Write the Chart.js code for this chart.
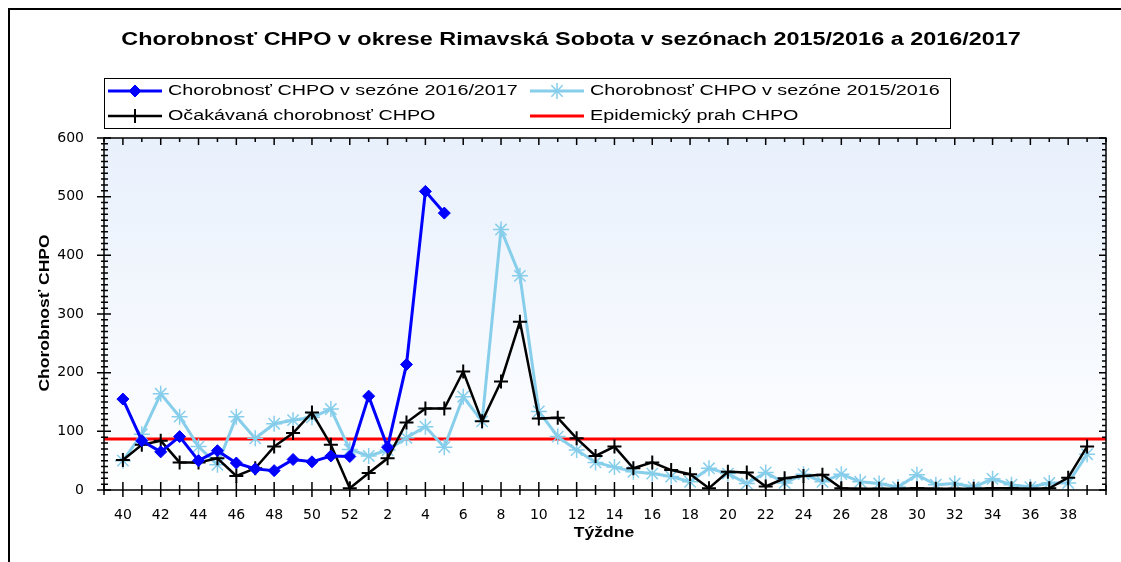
<!DOCTYPE html>
<html>
<head>
<meta charset="utf-8">
<script src="https://cdn.jsdelivr.net/npm/chart.js@4"></script>
<style>
  html, body { margin: 0; padding: 0; background: #fff; }
  #wrap { width: 1121px; height: 562px; position: relative; }
</style>
</head>
<body>
<div id="wrap"><canvas id="c" width="1121" height="562"></canvas></div>
<script>
// týždne sezóny (40. týždeň až 39. týždeň nasledujúceho roka)
var weeks = [40, 41, 42, 43, 44, 45, 46, 47, 48, 49, 50, 51, 52,
	1, 2, 3, 4, 5, 6, 7, 8, 9, 10, 11, 12, 13, 14, 15, 16, 17, 18, 19, 20,
	21, 22, 23, 24, 25, 26, 27, 28, 29, 30, 31, 32, 33, 34, 35, 36, 37, 38, 39];

// chorobnosť v sezóne 2016/2017 (zatiaľ len do 5. týždňa)
var season1617 = [155, 84, 65, 91, 50, 67, 46, 36, 33, 52, 48, 58, 57,
	160, 73, 214, 509, 472];

// chorobnosť v sezóne 2015/2016
var season1516 = [50, 95, 164, 125, 74, 43, 125, 88, 113, 119, 124, 138, 69,
	58, 68, 89, 108, 73, 159, 117, 444, 365, 134, 91, 68, 47, 39, 31, 28, 23, 14, 37, 28,
	11, 30, 12, 27, 14, 27, 14, 11, 5, 26, 9, 11, 5, 19, 9, 5, 12, 12, 61];

// očakávaná chorobnosť
var expected = [51, 77, 84, 47, 47, 54, 24, 37, 74, 97, 132, 77, 3,
	29, 54, 115, 139, 139, 202, 117, 185, 287, 122, 123, 88, 58, 74, 37, 47, 34, 27, 3, 31,
	30, 6, 20, 24, 26, 3, 2, 2, 2, 3, 2, 2, 2, 3, 3, 2, 3, 21, 74];

var epidemicThreshold = 87;

var titleText = 'Chorobnosť CHPO v okrese Rimavská Sobota v sezónach 2015/2016 a 2016/2017';
var yTitle = 'Chorobnosť CHPO';
var xTitle = 'Týždne';

function toPoints(arr) {
	return arr.map(function (v, i) { return { x: i, y: v }; });
}

// text roztiahnutý do šírky
function wideText(ctx, text, x, y, font, sx, align) {
	ctx.save();
	ctx.font = font;
	ctx.fillStyle = '#000';
	ctx.textBaseline = 'middle';
	var w = ctx.measureText(text).width * sx;
	var left = x;
	if (align === 'center') left = x - w / 2;
	if (align === 'right') left = x - w;
	ctx.translate(left, y);
	ctx.scale(sx, 1);
	ctx.textAlign = 'left';
	ctx.fillText(text, 0, 0);
	ctx.restore();
}

var frame = {
	id: 'frame',
	beforeDraw: function (chart) {
		var ctx = chart.ctx, a = chart.chartArea;
		ctx.save();
		var g = ctx.createLinearGradient(0, a.top, 0, a.bottom);
		g.addColorStop(0, '#e8f0fc');
		g.addColorStop(1, '#ffffff');
		ctx.fillStyle = g;
		ctx.fillRect(a.left, a.top, a.right - a.left, a.bottom - a.top);
		// orámovanie obrázka
		ctx.strokeStyle = '#000';
		ctx.lineWidth = 2;
		ctx.beginPath();
		ctx.moveTo(9, 562);
		ctx.lineTo(9, 9);
		ctx.lineTo(1121, 9);
		ctx.stroke();
		ctx.restore();
	},
	afterDraw: function (chart) {
		var ctx = chart.ctx, a = chart.chartArea;
		var xs = chart.scales.x, ys = chart.scales.y;
		ctx.save();
		ctx.strokeStyle = '#000';
		ctx.lineWidth = 1.5;
		ctx.strokeRect(a.left, a.top, a.right - a.left, a.bottom - a.top);
		ctx.beginPath();
		xs.ticks.forEach(function (t) {
			var px = xs.getPixelForValue(t.value);
			var major = t.label !== '';
			ctx.moveTo(px, a.bottom - (major ? 8 : 5));
			ctx.lineTo(px, a.bottom + (major ? 7 : 5));
			ctx.moveTo(px, a.top);
			ctx.lineTo(px, a.top + (major ? 7 : 4));
		});
		ys.ticks.forEach(function (t) {
			var py = ys.getPixelForValue(t.value);
			var major = t.value % 100 === 0;
			ctx.moveTo(a.left - (major ? 7 : 3), py);
			ctx.lineTo(a.left + (major ? 7 : 4), py);
			ctx.moveTo(a.right, py);
			ctx.lineTo(a.right - (major ? 7 : 4), py);
		});
		ctx.stroke();
		ctx.restore();

		// nadpis a popisy osí
		wideText(ctx, titleText, 571, 40, 'bold 18px "Liberation Sans"', 1.3, 'center');
		wideText(ctx, xTitle, 604, 533, 'bold 14px "Liberation Sans"', 1.25, 'center');
		ctx.save();
		ctx.translate(45, 313);
		ctx.rotate(-Math.PI / 2);
		wideText(ctx, yTitle, 0, 0, 'bold 14px "Liberation Sans"', 1.25, 'center');
		ctx.restore();

		// legenda
		ctx.save();
		ctx.strokeStyle = '#000';
		ctx.lineWidth = 1;
		ctx.strokeRect(104.5, 78.5, 846, 50);
		ctx.restore();
		var slots = [[108, 91], [108, 116], [530, 91], [530, 116]];
		var legendOrder = [0, 2, 1, 3];
		legendOrder.forEach(function (di, k) {
			var ds = chart.data.datasets[di];
			var sx = slots[k][0], sy = slots[k][1];
			ctx.save();
			ctx.strokeStyle = ds.borderColor;
			ctx.lineWidth = ds.borderWidth;
			ctx.beginPath();
			ctx.moveTo(sx, sy);
			ctx.lineTo(sx + 54, sy);
			ctx.stroke();
			if (ds.pointRadius > 0) {
				ctx.fillStyle = ds.pointBackgroundColor;
				ctx.strokeStyle = ds.pointBorderColor;
				ctx.lineWidth = ds.pointBorderWidth;
				Chart.helpers.drawPoint(ctx, {
					pointStyle: ds.pointStyle,
					radius: ds.pointRadius,
					borderWidth: ds.pointBorderWidth,
					rotation: 0
				}, sx + 27, sy);
			}
			ctx.restore();
			wideText(ctx, ds.label, sx + 60, sy, '14px "Liberation Sans"', 1.41, 'left');
		});
	}
};

var chart = new Chart(document.getElementById('c'), {
	type: 'line',
	data: {
		datasets: [{
			label: 'Chorobnosť CHPO v sezóne 2016/2017',
			data: toPoints(season1617),
			borderColor: '#0000ff',
			borderWidth: 3,
			pointStyle: 'rectRot',
			pointRadius: 6,
			pointBackgroundColor: '#0000ff',
			pointBorderColor: '#0000ff',
			pointBorderWidth: 1,
			order: 0
		}, {
			label: 'Chorobnosť CHPO v sezóne 2015/2016',
			data: toPoints(season1516),
			borderColor: '#87ceeb',
			borderWidth: 3,
			pointStyle: 'star',
			pointRadius: 8,
			pointBackgroundColor: '#87ceeb',
			pointBorderColor: '#87ceeb',
			pointBorderWidth: 1.5,
			order: 2
		}, {
			label: 'Očakávaná chorobnosť CHPO',
			data: toPoints(expected),
			borderColor: '#000000',
			borderWidth: 2.5,
			pointStyle: 'cross',
			pointRadius: 7,
			pointBackgroundColor: '#000000',
			pointBorderColor: '#000000',
			pointBorderWidth: 2,
			order: 1
		}, {
			label: 'Epidemický prah CHPO',
			data: [{ x: -1, y: epidemicThreshold }, { x: weeks.length, y: epidemicThreshold }],
			borderColor: '#ff0000',
			borderWidth: 3,
			pointRadius: 0,
			order: 3
		}]
	},
	options: {
		responsive: false,
		animation: false,
		layout: { padding: { left: 0, right: 15, top: 138, bottom: 0 } },
		plugins: {
			legend: { display: false },
			title: { display: false },
			tooltip: { enabled: false }
		},
		scales: {
			x: {
				type: 'linear',
				min: -1,
				max: weeks.length,
				grid: { display: false },
				border: { display: false },
				afterFit: function (s) { s.height = 72; },
				ticks: {
					stepSize: 1,
					autoSkip: false,
					maxRotation: 0,
					padding: 9,
					color: '#000',
					font: { family: 'DejaVu Sans', size: 14 },
					callback: function (v) {
						var w = weeks[v];
						return (w !== undefined && w % 2 === 0) ? String(w) : '';
					}
				}
			},
			y: {
				min: 0,
				max: 600,
				grid: { display: false },
				border: { display: false },
				afterFit: function (s) { s.width = 104; },
				ticks: {
					stepSize: 10,
					autoSkip: false,
					padding: 12,
					color: '#000',
					font: { family: 'DejaVu Sans', size: 14 },
					callback: function (v) { return v % 100 === 0 ? String(v) : ''; }
				}
			}
		}
	},
	plugins: [frame]
});
</script>
</body>
</html>
